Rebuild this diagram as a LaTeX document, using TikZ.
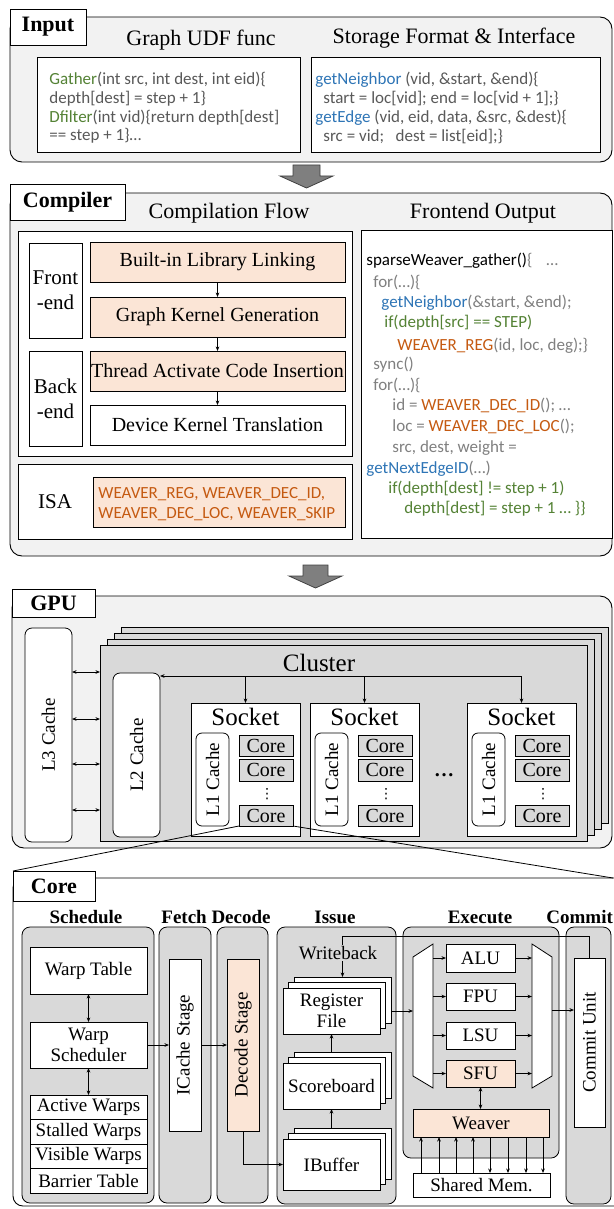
\documentclass[tikz,border=0pt]{standalone}
\usepackage{fontspec}
\setmainfont{Liberation Serif}
\newfontfamily\codefont{Carlito}
\newfontfamily\symfont{DejaVu Sans}
\usetikzlibrary{arrows.meta}

\definecolor{secgray}{HTML}{F2F2F2}
\definecolor{midgray}{HTML}{D9D9D9}
\definecolor{peach}{HTML}{FBE5D6}
\definecolor{codeorange}{HTML}{C55A11}
\definecolor{codegreen}{HTML}{548235}
\definecolor{codeblue}{HTML}{2E75B6}
\definecolor{codegray}{HTML}{808080}
\definecolor{codedark}{HTML}{595959}
\definecolor{flowgray}{HTML}{7F7F7F}

\newcommand\fsz[2]{\fontsize{#1pt}{#2pt}\selectfont}
% rectangle node spanning (x1,y1)-(x2,y2)
\newcommand\bx[7][]{\node[inner sep=0pt,outer sep=0pt,
  minimum width={((#5)-(#3))*1pt},minimum height={((#6)-(#4))*1pt},#1]
  (#2) at ({((#3)+(#5))/2},{((#4)+(#6))/2}) {#7};}
% one line of source code, placed by the start of its baseline
\newcommand\cl[5][codeline]{\node[#1] (#2) at (#3,#4) {#5};}
\newcommand\og[1]{{\color{codeorange}#1}}
\newcommand\gr[1]{{\color{codegreen}#1}}
\newcommand\bl[1]{{\color{codeblue}#1}}
% three stacked copies of an issue-stage buffer
\newcommand\stk[4]{%
  \bx[wbox]{#1b}{294}{(#2)-11}{391}{(#3)-11}{}
  \bx[wbox]{#1m}{288.5}{(#2)-5.5}{385.5}{(#3)-5.5}{}
  \bx[wbox,align=center,font=\fsz{19}{21}]{#1}{283}{#2}{380}{#3}{#4}}

\tikzset{
  secframe/.style={draw=black, fill=secgray, rounded corners=12pt, line width=0.9pt},
  tagbox/.style={draw=black, fill=white, line width=0.9pt, font=\bfseries\fsz{22}{24}},
  ttl/.style={font=\fsz{22}{24}, inner sep=0pt},
  head/.style={font=\bfseries\fsz{19}{21}, inner sep=0pt},
  wbox/.style={draw=black, fill=white},
  pbox/.style={draw=black, fill=peach},
  gbox/.style={draw=black, fill=midgray},
  rbox/.style={draw=black, fill=white, rounded corners=7pt},
  colbox/.style={draw=black, fill=midgray, rounded corners=8pt},
  vtext/.style={rotate=90, font=\fsz{19}{21}, inner sep=0pt},
  codeline/.style={anchor=base west, inner sep=0pt, text=codedark, font=\codefont\fsz{17}{20}},
  fo/.style={codeline, text=codegray},
  bigarrow/.style={draw=black!75, fill=flowgray, line width=0.8pt},
  conn/.style={line width=0.8pt, -{Stealth[length=4.5pt,width=3.6pt]}},
  dconn/.style={line width=0.8pt, {Stealth[length=4.5pt,width=3.6pt]}-{Stealth[length=4.5pt,width=3.6pt]}},
}

\begin{document}
\begin{tikzpicture}[x=1pt,y=-1pt,line width=0.8pt]
\useasboundingbox (0,0) rectangle (613,1209);

% ================= Input =================
\draw[secframe] (10,17) rectangle (612,162);
\bx[tagbox]{inTag}{10}{9}{86}{45}{Input}
\node[ttl] (udfT) at (201,40) {Graph UDF func};
\node[ttl] (stT) at (454,38) {Storage Format \& Interface};
\bx[wbox]{udfBox}{37}{57}{300}{152}{}
\bx[wbox]{stBox}{311}{57}{600}{152}{}
\cl{u1}{49}{85}{\gr{Gather}(int src, int dest, int eid)\{}
\cl{u2}{49}{104}{depth[dest] = step + 1\}}
\cl{u3}{49}{123}{\gr{Dfilter}(int vid)\{return depth[dest]}
\cl{u4}{49}{141}{== step + 1\}…}
\cl{g1}{315}{85}{\bl{getNeighbor} (vid, \&start, \&end)\{}
\cl{g2}{323}{104}{start = loc[vid]; end = loc[vid + 1];\}}
\cl{g3}{315}{123}{\bl{getEdge} (vid, eid, data, \&src, \&dest)\{}
\cl{g4}{323}{142}{src = vid;\ \ \ dest = list[eid];\}}

\draw[bigarrow] (293,165) -- (320,165) -- (320,176) -- (333,176) -- (306.5,188)
  -- (280,176) -- (293,176) -- cycle;

% ================= Compiler =================
\draw[secframe] (10,193) rectangle (612,556);
\bx[tagbox]{cpTag}{10}{184}{125}{220}{Compiler}
\node[ttl] (cfT) at (229,213) {Compilation Flow};
\node[ttl] (foT) at (483,213) {Frontend Output};
\bx[wbox]{flowBox}{18}{231}{352}{456}{}
\bx[wbox,align=center,font=\fsz{21}{25}]{feBox}{29}{243}{82}{338}{Front\\-end}
\bx[wbox,align=center,font=\fsz{21}{25}]{beBox}{29}{351}{82}{446}{Back\\-end}
\bx[pbox,font=\fsz{20}{22}]{st1}{90}{242}{345}{282}{Built-in Library Linking}
\bx[pbox,font=\fsz{20}{22}]{st2}{90}{297}{345}{337}{Graph Kernel Generation}
\bx[pbox,font=\fsz{20}{22}]{st3}{90}{351}{345}{391}{Thread Activate Code Insertion}
\bx[wbox,font=\fsz{20}{22}]{st4}{90}{405}{345}{445}{Device Kernel Translation}
\draw[conn] (st1) -- (st2);
\draw[conn] (st2) -- (st3);
\draw[conn] (st3) -- (st4);
\bx[wbox]{isaBox}{18}{464}{352}{539}{}
\node[font=\fsz{21}{24}] (isaT) at (55,502) {ISA};
\bx[pbox]{isaCode}{93}{477}{345}{527}{}
\cl{isa1}{98}{498}{\og{WEAVER\_REG, WEAVER\_DEC\_ID,}}
\cl{isa2}{98}{518}{\og{WEAVER\_DEC\_LOC, WEAVER\_SKIP}}

\bx[wbox]{foBox}{361}{230}{612}{538}{}
\cl[fo]{f1}{366}{265}{{\color{black}sparseWeaver\_gather()}\{\hspace{14pt}…}
\cl[fo]{f2}{373}{287}{for(…)\{}
\cl[fo]{f3}{381}{307}{\bl{getNeighbor}(\&start, \&end);}
\cl[fo]{f4}{384}{327}{\gr{if(depth[src] == STEP)}}
\cl[fo]{f5}{397}{350}{\og{WEAVER\_REG}(id, loc, deg);\}}
\cl[fo]{f6}{373}{369}{sync()}
\cl[fo]{f7}{373}{390}{for(…)\{}
\cl[fo]{f8}{392}{410}{id = \og{WEAVER\_DEC\_ID}(); …}
\cl[fo]{f9}{392}{431}{loc = \og{WEAVER\_DEC\_LOC}();}
\cl[fo]{f10}{392}{452}{src, dest, weight =}
\cl[fo]{f11}{366}{473}{\bl{getNextEdgeID}(…)}
\cl[fo]{f12}{388}{493}{\gr{if(depth[dest] != step + 1)}}
\cl[fo]{f13}{404}{513}{\gr{depth[dest] = step + 1 … \}\}}}

\draw[bigarrow] (303,565) -- (328,565) -- (328,576) -- (342,576) -- (315.5,588)
  -- (289,576) -- (303,576) -- cycle;

% ================= GPU =================
\draw[secframe] (12,596) rectangle (612,848);
\bx[tagbox]{gpuTag}{12}{589}{95}{617}{GPU}
\bx[rbox]{l3}{25}{628}{72}{842}{}
\node[vtext] (l3T) at (l3) {L3 Cache};
\bx[gbox]{cl3}{121}{627}{608}{823}{}
\bx[gbox]{cl2}{114}{633}{601}{829}{}
\bx[gbox]{cl1}{107}{639}{594}{835}{}
\bx[gbox]{cl0}{100}{645}{587}{841}{}
\node[font=\fsz{25}{27}] (clT) at (319,663) {Cluster};
\bx[rbox]{l2}{113}{673}{160}{837}{}
\node[vtext] (l2T) at (l2) {L2 Cache};
\foreach \yy [count=\i] in {672,719,764,810} {
  \coordinate (lk\i) at (0,\yy);
  \draw[dconn] (l3.east |- lk\i) -- (cl0.west |- lk\i);
}
\foreach \sx/\nm in {191/s1, 310/s2, 467/s3} {
  \bx[wbox]{\nm}{\sx}{703}{\sx+109}{836}{}
  \node[font=\fsz{25}{27}] (\nm t) at (\sx+54.5,717) {Socket};
  \bx[rbox,rounded corners=6pt]{\nm l1}{\sx+5}{733}{\sx+38}{826}{}
  \node[vtext] (\nm l1t) at (\nm l1) {L1 Cache};
  \bx[gbox,font=\fsz{20}{22}]{\nm c1}{\sx+48}{735}{\sx+102}{756}{Core}
  \bx[gbox,font=\fsz{20}{22}]{\nm c2}{\sx+48}{759}{\sx+102}{781}{Core}
  \bx[gbox,font=\fsz{20}{22}]{\nm c3}{\sx+48}{805}{\sx+102}{826}{Core}
  \node[font=\symfont\fsz{14}{14}, inner sep=0pt] (\nm dots) at (\sx+76,794) {⋮};
}
\coordinate (bus) at (0,676);
\draw[conn] (s3.north |- bus) -- (l2.east |- bus);
\draw[conn] (s1.north |- bus) -- (s1.north);
\draw[conn] (s2.north |- bus) -- (s2.north);
\draw[conn] (s3.north |- bus) -- (s3.north);
\node[font=\bfseries\fsz{20}{22}] (sdots) at (444,775) {…};

% ================= Core =================
\draw[fill=white, rounded corners=10pt, line width=0.9pt]
  (640,878) -- (13,878) -- (13,1206) -- (640,1206) -- cycle;
\coordinate (zr) at (613,878);
\bx[tagbox]{coreTag}{13}{871}{95}{901}{Core}
\draw (s1c3.south west) -- (coreTag.north west);
\draw (s1c3.south east) -- (zr);

\node[head] (hSch) at (86,917) {Schedule};
\node[head] (hFD) at (216,917) {Fetch Decode};
\node[head] (hIss) at (335,917) {Issue};
\node[head] (hEx) at (480,917) {Execute};
\node[head, anchor=west] (hCm) at (546,917) {Commit};

\bx[colbox]{cSch}{22}{927}{154}{1203}{}
\bx[colbox]{cFet}{159}{927}{211}{1203}{}
\bx[colbox]{cDec}{217}{927}{268}{1203}{}
\bx[colbox]{cIss}{277}{927}{396}{1204}{}
\bx[colbox]{cEx}{403}{927}{559}{1158}{}
\bx[colbox]{cCm}{566}{927}{611}{1204}{}

% schedule
\bx[wbox,font=\fsz{19}{21}]{wt}{30}{947}{147}{994}{Warp Table}
\bx[wbox,align=center,font=\fsz{19}{21}]{ws}{30}{1022}{147}{1068}{Warp\\Scheduler}
\bx[wbox,font=\fsz{19}{21}]{aw}{30}{1095}{147}{1119.5}{Active Warps}
\bx[wbox,font=\fsz{19}{21}]{sw}{30}{1119.5}{147}{1144}{Stalled Warps}
\bx[wbox,font=\fsz{19}{21}]{vw}{30}{1144}{147}{1168.5}{Visible Warps}
\bx[wbox,font=\fsz{19}{21}]{bt}{30}{1168.5}{147}{1193}{Barrier Table}
\draw[dconn] (wt) -- (ws);
\draw[dconn] (ws) -- (aw);

% fetch / decode
\bx[wbox]{ic}{169}{959}{201}{1131}{}
\node[vtext] (icT) at (ic) {ICache Stage};
\bx[pbox]{dec}{227}{959}{259}{1131}{}
\node[vtext] (decT) at (dec) {Decode Stage};
\draw[conn] (ws.east) -- (ic.west |- ws.east);
\draw[conn] (ic.east |- ws.east) -- (dec.west |- ws.east);

% issue
\coordinate (wbTop) at (0,936);
\bx[wbox]{cu}{574}{958}{605}{1127}{}
\node[vtext] (cuT) at (cu) {Commit Unit};
\stk{rf}{988}{1034}{Register\\File}
\stk{sb}{1063}{1109}{Scoreboard}
\stk{ib}{1139}{1190}{IBuffer}
\draw[conn] (cu.north) |- (rfb.north |- wbTop) -- (rfb.north);
\node[font=\fsz{19}{21}, fill=midgray, inner sep=1pt] (wbT) at (338,953) {Writeback};
\draw[conn] (sbb.north -| sb.north) -- (rf.south);
\draw[conn] (ibb.north -| ib.north) -- (sb.south);
\draw[conn] (dec.south) |- (ib.west);

% execute
\draw[fill=white] (413,957) -- (433,944) -- (433,1088) -- (413,1076) -- cycle;
\draw[fill=white] (532,944) -- (552,957) -- (552,1076) -- (532,1088) -- cycle;
\coordinate (mxin) at (413,0);
\coordinate (mxa) at (433,0);
\coordinate (mxb) at (532,0);
\coordinate (mxc) at (552,1010);
\bx[wbox,font=\fsz{19}{21}]{alu}{446}{944}{515}{972}{ALU}
\bx[wbox,font=\fsz{19}{21}]{fpu}{446}{983}{515}{1010}{FPU}
\bx[wbox,font=\fsz{19}{21}]{lsu}{446}{1022}{515}{1049}{LSU}
\bx[pbox,font=\fsz{19}{21}]{sfu}{446}{1060}{515}{1087}{SFU}
\foreach \u in {alu,fpu,lsu,sfu} {
  \draw[conn] (\u.west -| mxa) -- (\u.west);
  \draw[conn] (\u.east) -- (\u.east -| mxb);
}
\draw[conn] (rf.east -| rfb.east) -- (mxin |- rf.east);
\draw[conn] (mxc) -- (cu.west |- mxc);
\bx[pbox,font=\fsz{19}{21}]{wv}{413}{1109}{549}{1137}{Weaver}
\draw[dconn] (sfu.south) -- (sfu.south |- wv.north);
\bx[wbox,font=\fsz{19}{21}]{sm}{413}{1173}{550}{1197}{Shared Mem.}
\foreach \xx [count=\i] in {421,439,456,473} {
  \coordinate (up\i) at (\xx,0);
  \draw[conn] (sm.north -| up\i) -- (wv.south -| up\i);
}
\foreach \xx [count=\i] in {490,508,526,543} {
  \coordinate (dn\i) at (\xx,0);
  \draw[conn] (wv.south -| dn\i) -- (sm.north -| dn\i);
}
\end{tikzpicture}
\end{document}
